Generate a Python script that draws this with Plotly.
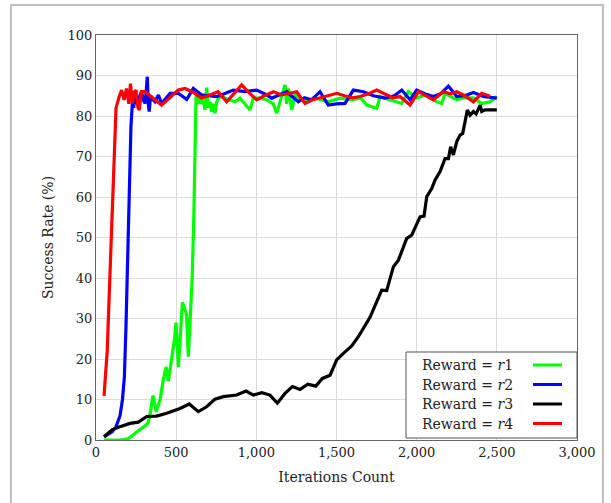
import plotly.graph_objects as go

# ---- data ----
r1_x = [50, 100, 150, 200, 250, 275, 300, 325, 340, 355, 375, 400, 420, 437, 451, 471, 490, 499, 514, 539, 565, 576, 600, 610, 618, 624, 640, 649, 659, 669, 680, 690, 701, 711, 721, 732, 742, 753, 769, 800, 830, 867, 898, 929, 961, 981, 1023, 1065, 1106, 1127, 1148, 1168, 1179, 1189, 1200, 1221, 1241, 1280, 1320, 1360, 1400, 1450, 1522, 1600, 1650, 1689, 1751, 1772, 1830, 1907, 1948, 2000, 2063, 2125, 2156, 2177, 2250, 2300, 2354, 2406, 2458, 2500]
r1_y = [0, 0, 0, 0.3, 2, 2.6, 3.3, 4.2, 7, 11, 7, 10, 15, 18, 14.5, 20, 25, 29, 18, 34, 31, 20.6, 40, 55, 75, 85, 83, 85, 83, 84, 81.5, 87, 82, 83.5, 81, 83, 80.7, 83.5, 84.8, 84.5, 84, 83.5, 84.4, 83, 81.5, 84.4, 84.4, 84, 83, 80.7, 83.5, 86.4, 87.7, 83, 86.8, 81.5, 85.2, 84, 83.5, 84.5, 84, 83.5, 84.4, 84, 84.5, 82.7, 81.9, 84.8, 84, 83.1, 86, 84.5, 85.2, 83.5, 83.1, 85.6, 84, 84.5, 84.5, 83.1, 83.5, 84.8]

r2_x = [50, 100, 125, 150, 165, 177, 187, 197, 208, 218, 228, 235, 243, 254, 264, 274, 284, 295, 306, 313, 320, 326, 332, 340, 347, 368, 389, 409, 462, 513, 566, 607, 659, 700, 753, 800, 856, 930, 1002, 1050, 1096, 1189, 1262, 1300, 1345, 1397, 1449, 1500, 1553, 1605, 1668, 1730, 1803, 1860, 1907, 1959, 2000, 2050, 2104, 2150, 2198, 2250, 2300, 2354, 2416, 2500]
r2_y = [0.8, 2, 3.3, 6, 10, 15.6, 28, 44.4, 61, 77.4, 84, 82, 86, 83, 84, 85, 86, 84, 83.1, 86, 89.7, 83, 81.1, 85, 84.4, 83.5, 85.2, 83.1, 85.6, 85.6, 84.1, 86.8, 85.2, 85, 84.8, 85.5, 86.4, 86, 86.4, 85.5, 84.4, 86, 83.5, 84.5, 84, 86, 82.7, 83, 83.1, 86.4, 86, 85, 84.4, 85, 86.4, 84, 86.4, 85.5, 84.8, 85.5, 87.4, 84.8, 85, 85.8, 84.8, 84.4]

r3_x = [50, 100, 150, 212, 264, 316, 378, 441, 524, 582, 638, 690, 742, 794, 877, 936, 981, 1034, 1085, 1131, 1179, 1225, 1273, 1321, 1371, 1412, 1460, 1501, 1543, 1595, 1636, 1672, 1709, 1747, 1782, 1813, 1834, 1855, 1886, 1906, 1938, 1969, 2000, 2021, 2046, 2063, 2094, 2115, 2146, 2177, 2198, 2212, 2229, 2250, 2271, 2287, 2302, 2316, 2333, 2354, 2371, 2396, 2406, 2427, 2500]
r3_y = [0.8, 2.5, 3.3, 4.1, 4.4, 5.8, 5.9, 6.6, 7.8, 8.9, 7.0, 8.2, 10.1, 10.7, 11.1, 12.1, 11.1, 11.7, 11.1, 9.1, 11.5, 13.2, 12.5, 13.8, 13.3, 15.2, 16.0, 19.8, 21.4, 23.2, 25.5, 28.0, 30.3, 33.8, 37.0, 36.9, 39.9, 42.8, 44.4, 46.5, 49.8, 50.6, 53.5, 55.1, 55.3, 60.1, 62.1, 64.2, 66.3, 69.5, 69.5, 72.4, 70.4, 73.7, 75.3, 75.7, 78.6, 81.5, 80.2, 81.1, 80.5, 82.7, 81.1, 81.5, 81.5]

r4_x = [50, 70, 90, 110, 125, 145, 160, 175, 190, 205, 215, 228, 240, 250, 262, 270, 284, 306, 350, 409, 460, 513, 555, 600, 659, 700, 762, 815, 860, 909, 960, 1002, 1050, 1106, 1158, 1200, 1252, 1304, 1350, 1400, 1450, 1501, 1550, 1600, 1647, 1700, 1751, 1800, 1850, 1896, 1959, 2011, 2060, 2104, 2167, 2210, 2250, 2300, 2354, 2406, 2458]
r4_y = [10.9, 22, 44, 69, 82, 84.8, 86.4, 84, 86.8, 83, 88, 83.1, 86, 86.4, 82, 81.5, 86, 86, 84.5, 82.7, 84.5, 86.4, 86.8, 86, 84.4, 85, 86, 83.5, 85.5, 87.7, 85.5, 84, 85, 86, 85.2, 85.5, 86, 83.1, 84, 84.5, 85, 85.6, 85, 84.5, 84.8, 85.5, 86.4, 85.5, 84.5, 84.8, 82.7, 86, 85, 84, 86, 85.5, 86, 85, 83.5, 85.6, 84.9]

series_names = ["Reward = <i>r</i>1", "Reward = <i>r</i>2", "Reward = <i>r</i>3", "Reward = <i>r</i>4"]
series_colors = ["#00ff00", "#0000ff", "#000000", "#ff0000"]
series_x = [r1_x, r2_x, r3_x, r4_x]
series_y = [r1_y, r2_y, r3_y, r4_y]

x_ticks = [0, 500, 1000, 1500, 2000, 2500, 3000]
x_tick_labels = ["0", "500", "1,000", "1,500", "2,000", "2,500", "3,000"]
y_ticks = [0, 10, 20, 30, 40, 50, 60, 70, 80, 90, 100]

FONT = "DejaVu Serif"
W, H = 611, 503
L, R, T, B = 96, 34, 35, 63
pw, ph = W - L - R, H - T - B

def px(x):
    return (x - L) / pw

def py(y):
    return (H - B - y) / ph

fig = go.Figure()
for xs, ys, c, n in zip(series_x, series_y, series_colors, series_names):
    fig.add_trace(go.Scatter(x=xs, y=ys, mode="lines", name=n,
                             line=dict(color=c, width=3.2), showlegend=False))

shapes = []
annotations = []
# outer frame
shapes.append(dict(type="rect", xref="paper", yref="paper",
                   x0=px(11), x1=px(603), y0=py(505), y1=py(5),
                   line=dict(color="#c0c0c0", width=2), layer="below"))
# legend box
shapes.append(dict(type="rect", xref="paper", yref="paper",
                   x0=px(406), x1=px(577), y0=py(438), y1=py(352),
                   line=dict(color="#555555", width=1), fillcolor="white", layer="above"))
row_y = [365, 384.5, 404, 423.5]
for yy, c, n in zip(row_y, series_colors, series_names):
    annotations.append(dict(xref="paper", yref="paper", x=px(467), y=py(yy),
                            text=n, showarrow=False, xanchor="center", yanchor="middle",
                            font=dict(family=FONT, size=14, color="#222")))
    shapes.append(dict(type="line", xref="paper", yref="paper",
                       x0=px(533), x1=px(562), y0=py(yy), y1=py(yy),
                       line=dict(color=c, width=3), layer="above"))

fig.update_layout(
    width=W, height=H,
    margin=dict(l=L, r=R, t=T, b=B),
    paper_bgcolor="white", plot_bgcolor="white",
    font=dict(family=FONT, size=13, color="#222"),
    shapes=shapes, annotations=annotations,
    showlegend=False,
)
fig.update_xaxes(range=[0, 3000], tickvals=x_ticks, ticktext=x_tick_labels,
                 showgrid=True, gridcolor="#dcdcdc", gridwidth=1,
                 showline=True, linecolor="#666", linewidth=1, mirror=True,
                 zeroline=False, ticks="", ticklen=0,
                 tickfont=dict(family=FONT, size=13),
                 title=dict(text="Iterations Count", font=dict(family=FONT, size=14), standoff=13))
fig.update_yaxes(range=[0, 100], tickvals=y_ticks,
                 showgrid=True, gridcolor="#dcdcdc", gridwidth=1,
                 showline=True, linecolor="#666", linewidth=1, mirror=True,
                 zeroline=False, ticks="", ticklen=0,
                 tickfont=dict(family=FONT, size=13),
                 title=dict(text="Success Rate (%)", font=dict(family=FONT, size=14), standoff=10))

fig.write_html("out.html")
